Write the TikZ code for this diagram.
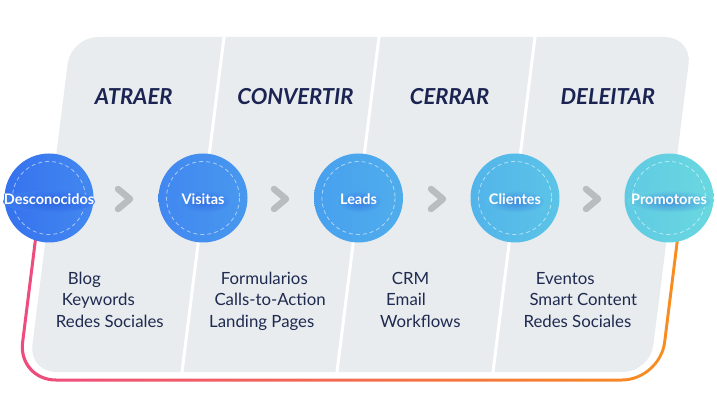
\documentclass[tikz,border=0pt]{standalone}
\usepackage{fontspec}
\setmainfont{Lato}
\definecolor{bgray}{HTML}{E8ECEE}
\definecolor{navy}{HTML}{1F2A50}
\definecolor{headc}{HTML}{1A2352}
\definecolor{chev}{HTML}{B9BDC0}
\definecolor{pinkc}{HTML}{EE4A80}
\definecolor{orangec}{HTML}{F7901C}
\definecolor{glow}{HTML}{1C47D0}
\newcommand\stagecirc[6]{%
  \definecolor{#1L}{HTML}{#3}%
  \definecolor{#1R}{HTML}{#4}%
  \colorlet{#1M}{#1L!50!#1R}%
  \colorlet{#1G}{glow!45!#1M}%
  \node[circ, left color=#1L, right color=#1R] (#1) at (#2,198) {};
  \draw[innerdash] (#1.center) circle[radius=36.5];
  \shade[inner color=#1G, outer color=#1M] (#2,201.5) ellipse [x radius=#6, y radius=11];
  \node[ctxt] (#1t) at (#2,205) {#5};
}
\begin{document}
\begin{tikzpicture}[x=1pt,y=-1pt,
  circ/.style={circle, minimum size=89pt, inner sep=0pt, draw=none},
  innerdash/.style={draw=white, draw opacity=0.55, line width=0.8pt, dash pattern=on 4pt off 3pt},
  ctxt/.style={anchor=base, inner sep=0pt, text=white, font=\bfseries\fontsize{14.5}{15}\selectfont},
  headtxt/.style={anchor=base, inner sep=0pt, text=headc, font=\bfseries\itshape\fontsize{22}{23}\selectfont},
  item/.style={anchor=base west, inner sep=0pt, text=navy, font=\fontsize{16.8}{18}\selectfont},
  chevron/.style={draw=chev, line width=6.5pt, line cap=round, line join=round},
  divider/.style={draw=white, line width=3pt}]
\useasboundingbox (0,0) rectangle (717,419);

% gray background panel
\fill[bgray, rounded corners=27] (340,372) -- (29,372) -- (71,37) -- (692,37) -- (650,372) -- cycle;
% dividers
\draw[divider] (224.9,30) -- (181.5,376);
\draw[divider] (379.9,30) -- (336.5,376);
\draw[divider] (535.9,30) -- (492.5,376);

% gradient outline
\begin{scope}
  \clip (0,226) rectangle (717,419);
  \shade[left color=pinkc, right color=orangec, even odd rule]
    [rounded corners=39.5] (51.4,100) -- (16.2,381.5) -- (661.2,381.5) -- (696.4,100) -- cycle
    [rounded corners=36.5] (54.4,100) -- (19.6,378.5) -- (658.6,378.5) -- (693.4,100) -- cycle;
\end{scope}

% headers
\node[headtxt] (h1) at (133.7,105) {ATRAER};
\node[headtxt] (h2) at (295.5,105) {CONVERTIR};
\node[headtxt] (h3) at (449.5,105) {CERRAR};
\node[headtxt] (h4) at (607.8,105) {DELEITAR};

% chevrons
\draw[chevron] (118,189) -- (130,199) -- (118,209);
\draw[chevron] (274,189) -- (286,199) -- (274,209);
\draw[chevron] (431,189) -- (443,199) -- (431,209);
\draw[chevron] (586,189) -- (598,199) -- (586,209);

% stage circles
\stagecirc{c1}{49}{3572EE}{4388F0}{Desconocidos}{46}
\stagecirc{c2}{203}{4187F0}{4898EF}{Visitas}{26}
\stagecirc{c3}{358.5}{47A0EE}{50ADEC}{Leads}{23}
\stagecirc{c4}{515}{52B4EA}{5CC4E7}{Clientes}{29}
\stagecirc{c5}{669}{5FCAE3}{6AD8E0}{Promotores}{42}

% items
\node[item] (a1) at (67.7,285) {Blog};
\node[item] (a2) at (61.7,306) {Keywords};
\node[item] (a3) at (55.7,327.5) {Redes Sociales};
\node[item] (b1) at (220.7,285) {Formularios};
\node[item] (b2) at (214.3,306) {Calls-to-Action};
\node[item] (b3) at (209,327.5) {Landing Pages};
\node[item] (d1) at (391.7,285) {CRM};
\node[item] (d2) at (386,306) {Email};
\node[item] (d3) at (380,327.5) {Workflows};
\node[item] (e1) at (535.7,285) {Eventos};
\node[item] (e2) at (529.3,306) {Smart Content};
\node[item] (e3) at (523.3,327.5) {Redes Sociales};
\end{tikzpicture}
\end{document}
